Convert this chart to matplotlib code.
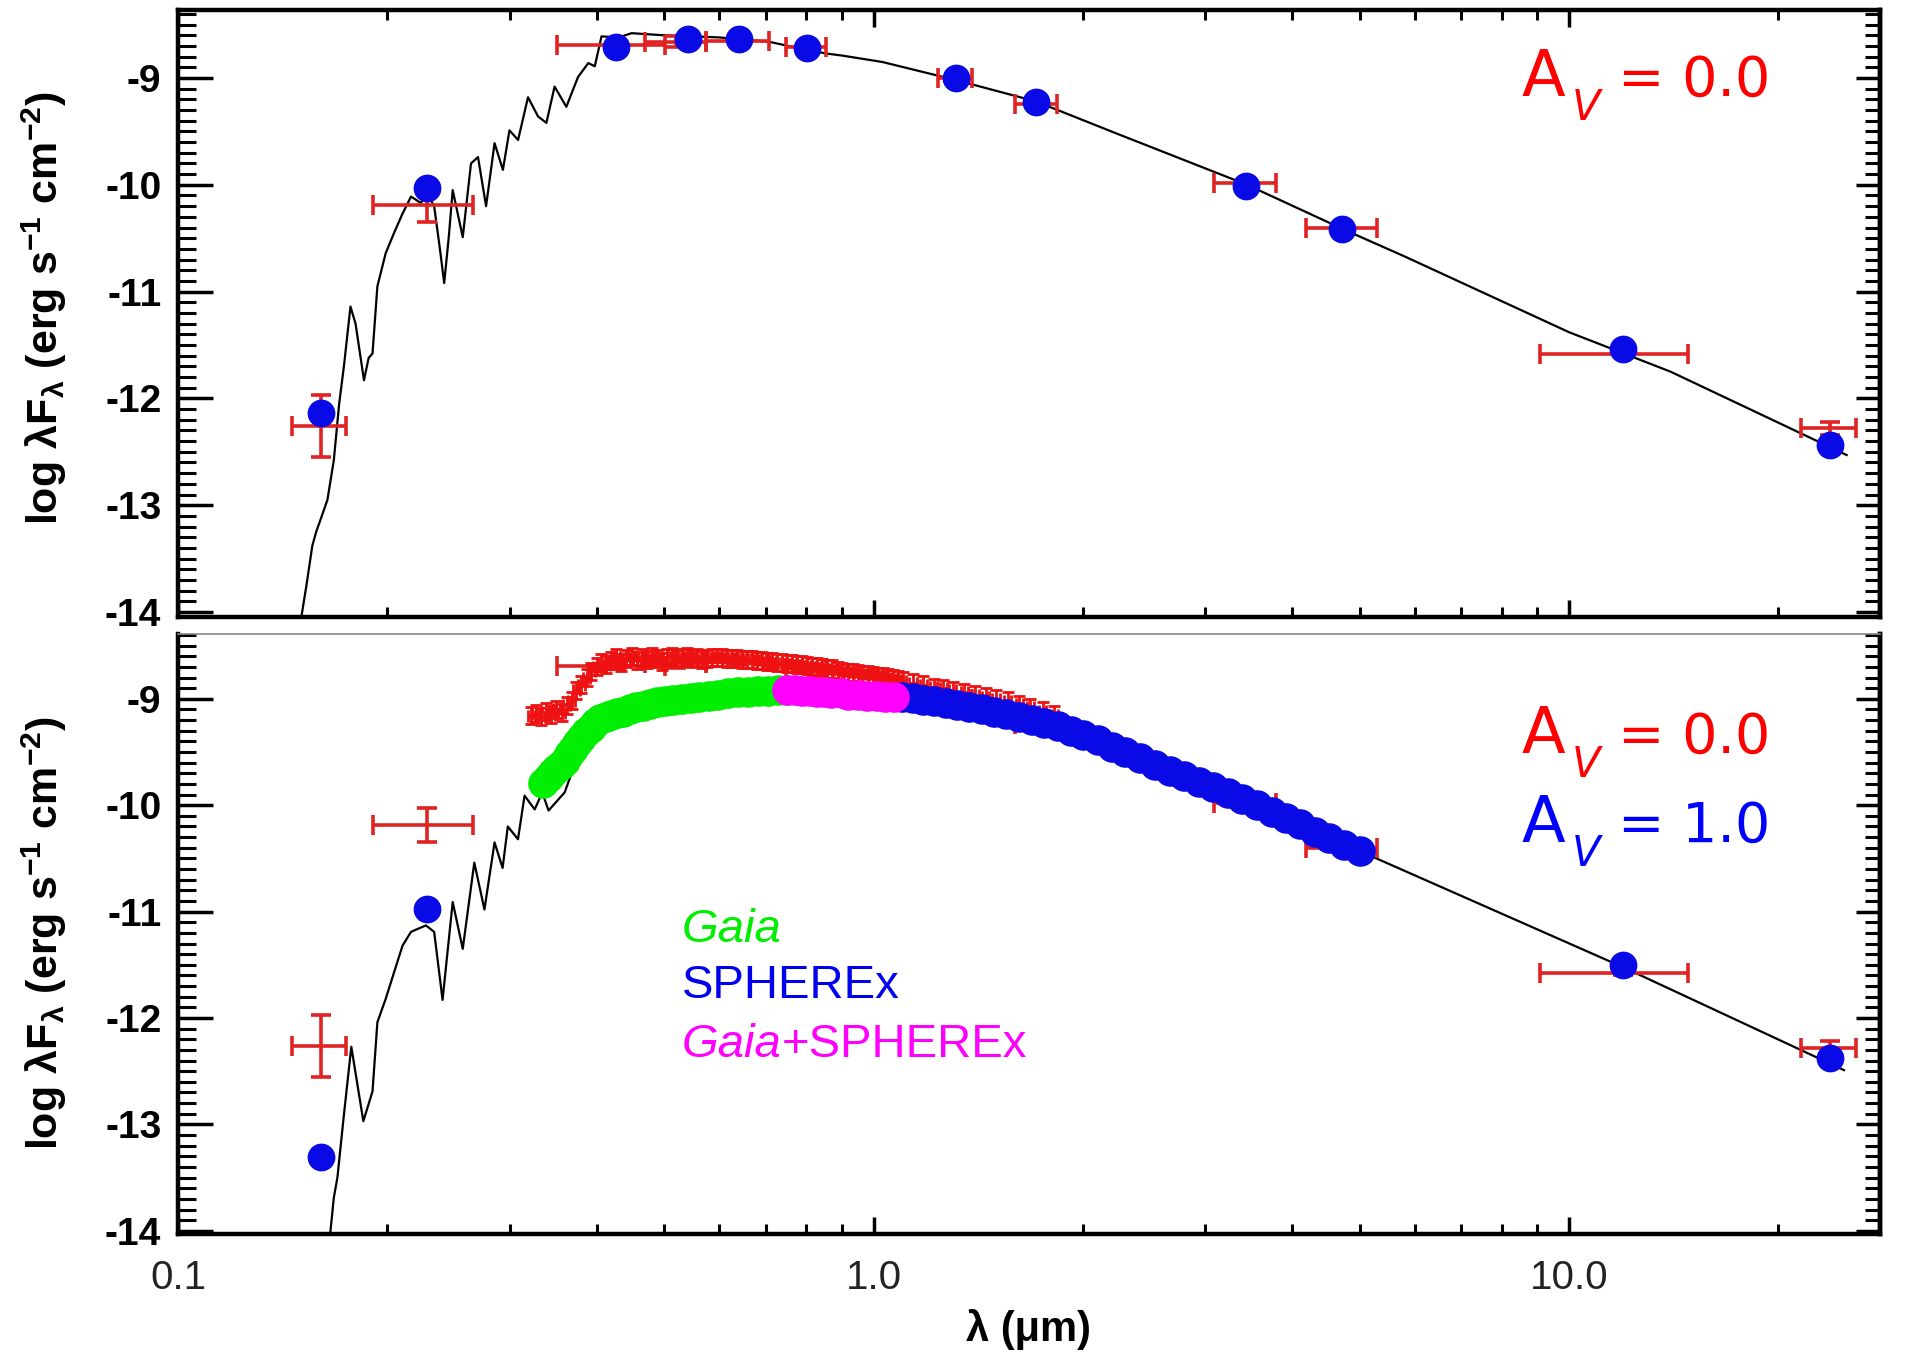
import numpy as np
import matplotlib
matplotlib.use("Agg")
import matplotlib.pyplot as plt
from matplotlib.ticker import MultipleLocator, LogLocator, FixedLocator, NullFormatter

# photometry (A_V = 0), wavelengths in micron, log lambda*F_lambda
phot_wave = [0.1603, 0.2277, 0.427, 0.542, 0.640, 0.803, 1.312, 1.715, 3.427, 4.724, 11.94, 23.71]
phot_flux = [-12.14, -10.03, -8.71, -8.63, -8.63, -8.72, -9.00, -9.22, -10.01, -10.41, -11.54, -12.44]

# observed points with error bars
obs_wave = [0.1603, 0.2277, 0.427, 0.520, 0.640, 0.803, 1.312, 1.715, 3.427, 4.724, 11.94, 23.71]
obs_wlo = [0.1459, 0.191, 0.351, 0.470, 0.575, 0.749, 1.237, 1.596, 3.085, 4.183, 9.09, 21.55]
obs_whi = [0.1746, 0.2656, 0.502, 0.575, 0.707, 0.854, 1.387, 1.833, 3.785, 5.297, 14.83, 25.85]
obs_flux = [-12.26, -10.19, -8.69, -8.66, -8.65, -8.71, -9.00, -9.24, -9.98, -10.40, -11.58, -12.28]
obs_ferr = [0.29, 0.16, 0.03, 0.05, 0.03, 0.03, 0.02, 0.02, 0.02, 0.02, 0.02, 0.06]

# reddened (A_V = 1) photometry visible in lower panel
red_phot_wave = [0.1603, 0.2277, 11.94, 23.71]
red_phot_flux = [-13.31, -10.98, -11.50, -12.38]

# model spectrum, A_V = 0
model_wave = [0.1505, 0.1530, 0.1560, 0.1580, 0.1610, 0.1640, 0.1675, 0.1705, 0.1732, 0.1770,
              0.1800, 0.1851, 0.1880, 0.1904, 0.1935, 0.1989, 0.2045, 0.2103, 0.2163, 0.2234,
              0.2280, 0.2335, 0.2380, 0.2414, 0.2450, 0.2483, 0.2567, 0.2638, 0.2700, 0.2773,
              0.2852, 0.2932, 0.2996, 0.3083, 0.3186, 0.3294, 0.3386, 0.3479, 0.3617, 0.3760,
              0.3890, 0.3974, 0.4064, 0.4300, 0.4490, 0.5000, 0.5500, 0.6000, 0.6500, 0.7070,
              0.7800, 0.8535, 0.9020, 1.030, 1.315, 1.714, 2.237, 3.445, 4.751, 5.800,
              10.00, 14.00, 25.07]
model_flux = [-14.04, -13.75, -13.38, -13.25, -13.10, -12.95, -12.58, -12.05, -11.70, -11.14,
              -11.30, -11.83, -11.62, -11.58, -10.95, -10.64, -10.45, -10.27, -10.11, -10.17,
              -10.08, -10.20, -10.60, -10.92, -10.50, -10.05, -10.49, -9.80, -9.74, -10.20,
              -9.61, -9.86, -9.49, -9.58, -9.18, -9.36, -9.42, -9.08, -9.27, -8.99,
              -8.86, -8.89, -8.61, -8.62, -8.58, -8.60, -8.61, -8.62, -8.64, -8.66,
              -8.72, -8.77, -8.79, -8.85, -9.02, -9.22, -9.52, -10.00, -10.42, -10.67,
              -11.38, -11.75, -12.53]

# model spectrum, A_V = 1
model_red_wave = [0.1655, 0.1675, 0.1695, 0.1732, 0.1775, 0.1847, 0.1904, 0.1935, 0.1989, 0.2045,
                  0.2103, 0.2163, 0.2272, 0.2335, 0.2401, 0.2483, 0.2567, 0.2667, 0.2758, 0.2852,
                  0.2929, 0.2980, 0.3082, 0.3150, 0.3257, 0.3340, 0.3410, 0.3597, 0.3800, 0.4018,
                  0.4246, 0.4741, 0.5300, 0.5921, 0.6615, 0.7390, 0.9000, 1.100, 1.500, 1.876,
                  2.370, 3.000, 3.776, 5.160, 12.03, 24.86]
model_red_flux = [-14.03, -13.69, -13.50, -12.91, -12.27, -12.97, -12.69, -12.04, -11.82, -11.57,
                  -11.32, -11.19, -11.13, -11.19, -11.83, -10.91, -11.35, -10.54, -10.98, -10.35,
                  -10.59, -10.20, -10.32, -9.91, -10.04, -9.88, -10.05, -9.88, -9.45, -9.25,
                  -9.18, -9.08, -9.02, -8.98, -8.96, -8.95, -8.97, -9.00, -9.13, -9.28,
                  -9.55, -9.81, -10.07, -10.47, -11.53, -12.49]

# synthetic spectrum A_V = 0 (red crosses)
spec0_wave = [0.322, 0.327, 0.333, 0.338, 0.344, 0.350, 0.356, 0.362, 0.368, 0.374,
              0.380, 0.387, 0.393, 0.400, 0.406, 0.413, 0.420, 0.427, 0.434, 0.441,
              0.449, 0.457, 0.464, 0.472, 0.480, 0.488, 0.496, 0.505, 0.513, 0.522,
              0.530, 0.539, 0.548, 0.558, 0.567, 0.577, 0.586, 0.596, 0.606, 0.616,
              0.626, 0.637, 0.647, 0.658, 0.669, 0.681, 0.692, 0.704, 0.715, 0.727,
              0.739, 0.752, 0.764, 0.777, 0.790, 0.803, 0.817, 0.830, 0.844, 0.858,
              0.873, 0.888, 0.902, 0.918, 0.933, 0.949, 0.964, 0.981, 0.997, 1.014,
              1.031, 1.048, 1.066, 1.084, 1.102, 1.14, 1.18, 1.22, 1.26, 1.30,
              1.35, 1.40, 1.45, 1.50, 1.56, 1.62, 1.68, 1.75, 1.82]
spec0_flux = [-9.16, -9.14, -9.17, -9.12, -9.15, -9.10, -9.13, -9.06, -9.02, -8.92,
              -8.87, -8.80, -8.74, -8.70, -8.66, -8.68, -8.64, -8.61, -8.66, -8.62,
              -8.60, -8.64, -8.61, -8.63, -8.60, -8.62, -8.65, -8.61, -8.60, -8.62,
              -8.61, -8.60, -8.62, -8.61, -8.63, -8.62, -8.61, -8.61, -8.61, -8.62,
              -8.62, -8.62, -8.63, -8.63, -8.63, -8.64, -8.64, -8.65, -8.65, -8.66,
              -8.66, -8.67, -8.67, -8.68, -8.68, -8.69, -8.70, -8.70, -8.71, -8.72,
              -8.72, -8.73, -8.74, -8.75, -8.75, -8.76, -8.77, -8.77, -8.78, -8.79,
              -8.79, -8.80, -8.81, -8.82, -8.83, -8.85, -8.87, -8.89, -8.90, -8.92,
              -8.94, -8.96, -8.98, -9.00, -9.02, -9.05, -9.08, -9.11, -9.15]

# synthetic spectrum A_V = 1
gaia_wave = [0.335, 0.340, 0.345, 0.350, 0.355, 0.360, 0.365, 0.370, 0.375, 0.380,
             0.386, 0.392, 0.398, 0.405, 0.412, 0.420, 0.428, 0.437, 0.446, 0.456,
             0.466, 0.477, 0.489, 0.501, 0.515, 0.530, 0.546, 0.562, 0.580, 0.598,
             0.618, 0.638, 0.660, 0.682, 0.706, 0.730, 0.750]
gaia_flux = [-9.79, -9.74, -9.70, -9.66, -9.62, -9.58, -9.52, -9.47, -9.42, -9.37,
             -9.31, -9.27, -9.23, -9.19, -9.17, -9.15, -9.13, -9.12, -9.10, -9.08,
             -9.07, -9.05, -9.03, -9.02, -9.01, -9.00, -8.99, -8.98, -8.97, -8.96,
             -8.95, -8.94, -8.94, -8.93, -8.93, -8.92, -8.92]
both_wave = [0.75, 0.77, 0.79, 0.81, 0.83, 0.85, 0.87, 0.90, 0.92, 0.95, 0.98, 1.01, 1.04, 1.07]
both_flux = [-8.92, -8.92, -8.93, -8.93, -8.94, -8.94, -8.95, -8.95, -8.96, -8.96, -8.97, -8.97, -8.98, -8.98]
sphx_wave = [1.10, 1.14, 1.18, 1.22, 1.27, 1.32, 1.37, 1.43, 1.49, 1.55,
             1.62, 1.69, 1.76, 1.84, 1.92, 2.00, 2.10, 2.20, 2.30, 2.42,
             2.54, 2.67, 2.80, 2.94, 3.08, 3.23, 3.39, 3.56, 3.74, 3.92,
             4.11, 4.31, 4.52, 4.75, 5.00]
sphx_flux = [-8.98, -8.99, -9.01, -9.02, -9.04, -9.06, -9.08, -9.10, -9.12, -9.14,
             -9.17, -9.20, -9.23, -9.26, -9.30, -9.34, -9.39, -9.45, -9.50, -9.56,
             -9.62, -9.68, -9.73, -9.78, -9.83, -9.89, -9.94, -10.00, -10.06, -10.12,
             -10.18, -10.25, -10.31, -10.37, -10.43]

ytick_vals = [-9, -10, -11, -12, -13, -14]
ytick_text = ["-9", "-10", "-11", "-12", "-13", "-14"]

plt.rcParams["font.family"] = "Liberation Sans"
plt.rcParams["axes.unicode_minus"] = False
plt.rcParams["mathtext.fontset"] = "custom"
plt.rcParams["mathtext.rm"] = "Liberation Sans:bold"
plt.rcParams["mathtext.it"] = "Liberation Sans:bold:italic"
plt.rcParams["mathtext.bf"] = "Liberation Sans:bold"
plt.rcParams["mathtext.default"] = "rm"

RED = "#e02222"
BLUE = "#0a0ae6"
W, H = 1915, 1354
fig = plt.figure(figsize=(W / 100, H / 100), dpi=100)


def px_axes(l, t, r, b):
    return fig.add_axes([l / W, 1 - b / H, (r - l) / W, (b - t) / H])


def style_axes(ax, ylim, show_xlabels):
    ax.set_xscale("log")
    ax.set_xlim(0.1, 28)
    ax.set_ylim(*ylim)
    ax.set_yticks(ytick_vals)
    ax.set_yticklabels(ytick_text, fontweight="bold", fontsize=28)
    ax.yaxis.set_minor_locator(MultipleLocator(0.1))
    ax.xaxis.set_major_locator(FixedLocator([0.1, 1.0, 10.0]))
    ax.xaxis.set_minor_locator(LogLocator(base=10, subs=np.arange(2, 10) * 0.1, numticks=20))
    ax.xaxis.set_minor_formatter(NullFormatter())
    if show_xlabels:
        ax.set_xticklabels(["0.1", "1.0", "10.0"], fontsize=29, color="#222222")
    else:
        ax.xaxis.set_major_formatter(NullFormatter())
    ax.tick_params(axis="y", which="major", direction="in", length=25, width=2.5,
                   left=True, right=False, pad=12)
    ax.tick_params(axis="y", which="minor", direction="in", length=13, width=2.2,
                   left=True, right=False)
    ax.tick_params(axis="x", which="major", direction="in", length=12, width=2.5,
                   top=True, pad=18)
    ax.tick_params(axis="x", which="minor", direction="in", length=7, width=2.2, top=True)
    for sp in ax.spines.values():
        sp.set_linewidth(3.2)
    sec = ax.secondary_yaxis("right")
    sec.yaxis.set_major_locator(MultipleLocator(1))
    sec.yaxis.set_minor_locator(MultipleLocator(0.1))
    sec.tick_params(which="major", direction="in", length=17, width=2.5, labelright=False)
    sec.tick_params(which="minor", direction="in", length=11, width=2.2)
    sec.spines["right"].set_linewidth(3.2)


def draw_obs(ax):
    xerr = [np.array(obs_wave) - np.array(obs_wlo), np.array(obs_whi) - np.array(obs_wave)]
    ax.errorbar(obs_wave, obs_flux, xerr=xerr, yerr=obs_ferr, fmt="none", ecolor=RED,
                elinewidth=2.6, capsize=7, capthick=2.6, zorder=3)


ax1 = px_axes(178, 10, 1880, 617)
ax2 = px_axes(178, 634, 1880, 1234)

# upper panel
ax1.plot(model_wave, model_flux, color="black", lw=1.6, zorder=2)
draw_obs(ax1)
ax1.plot(phot_wave, phot_flux, "o", color=BLUE, ms=19, mec=BLUE, zorder=4)
style_axes(ax1, (-14.047, -8.363), False)

# lower panel
ax2.plot(model_red_wave, model_red_flux, color="black", lw=1.6, zorder=2)
draw_obs(ax2)
spec_xerr = np.array(spec0_wave) * 0.012
ax2.errorbar(spec0_wave, spec0_flux, xerr=spec_xerr, yerr=0.08, fmt="none", ecolor="#ee1111",
             elinewidth=2.0, capsize=4, capthick=2.0, zorder=3)
ax2.plot(gaia_wave, gaia_flux, "o", color="#00ee00", ms=21, mec="#00ee00", ls="none", zorder=4)
ax2.plot(sphx_wave, sphx_flux, "o", color=BLUE, ms=21, mec=BLUE, ls="none", zorder=4)
ax2.plot(both_wave, both_flux, "o", color="#ff00ff", ms=21, mec="#ff00ff", ls="none", zorder=5)
ax2.plot(red_phot_wave, red_phot_flux, "o", color=BLUE, ms=19, mec=BLUE, zorder=6)
style_axes(ax2, (-14.03, -8.391), True)
ax2.spines["top"].set_linewidth(1.2)
ax2.spines["top"].set_color("#888888")
ax2.tick_params(axis="x", which="both", top=False)

# axis labels
ylab = "log λF$_{λ}$ (erg s$^{-1}$ cm$^{-2}$)"
for yc in (308, 933):
    fig.text(44 / W, 1 - yc / H, ylab, rotation=90, ha="center", va="center",
             fontsize=31, fontweight="bold")
fig.text(1029 / W, 1 - 1329 / H, "λ (μm)", ha="center", va="center",
         fontsize=30, fontweight="bold")


# extinction labels
def av_label(baseline, value, color):
    fig.text(1522 / W, 1 - baseline / H, "A", color=color, fontsize=46,
             family="DejaVu Sans", va="baseline")
    fig.text(1572 / W, 1 - (baseline + 24) / H, "V", color=color, fontsize=30,
             family="DejaVu Sans", style="italic", va="baseline")
    fig.text(1618 / W, 1 - baseline / H, "= " + value, color=color, fontsize=40,
             family="DejaVu Sans", va="baseline")


av_label(96, "0.0", "#ff0000")
av_label(753, "0.0", "#ff0000")
av_label(842, "1.0", "#0000ff")

# legend text
fig.text(682 / W, 1 - 942 / H, "Gaia", color="#00ee00", fontsize=34, style="italic",
         va="baseline")
fig.text(682 / W, 1 - 998 / H, "SPHEREx", color="#0000ee", fontsize=34, va="baseline")
t = fig.text(682 / W, 1 - 1057 / H, "Gaia", color="#ff00ff", fontsize=34, style="italic",
             va="baseline")
plt.annotate("+SPHEREx", xy=(1, 0), xycoords=t, color="#ff00ff", fontsize=34,
             ha="left", va="bottom")

fig.savefig("out.png", dpi=100)
